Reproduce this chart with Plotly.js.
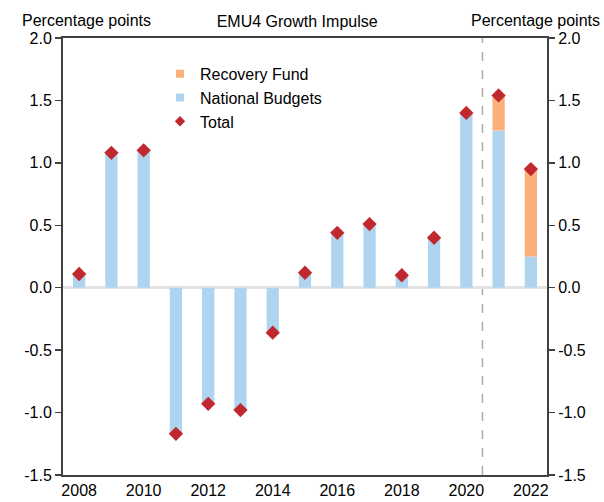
<!DOCTYPE html>
<html>
<head>
<meta charset="utf-8">
<script src="https://cdn.plot.ly/plotly-3.0.1.min.js"></script>
<style>html,body{margin:0;padding:0;background:#fff;}#chart{width:604px;height:502px;}</style>
</head>
<body>
<div id="chart"></div>
<script>
var years = [2008, 2009, 2010, 2011, 2012, 2013, 2014, 2015, 2016, 2017, 2018, 2019, 2020, 2021, 2022];
var nationalBudgets = [0.11, 1.08, 1.10, -1.17, -0.93, -0.98, -0.36, 0.12, 0.44, 0.51, 0.10, 0.40, 1.40, 1.26, 0.25];
var recoveryFund = [0, 0, 0, 0, 0, 0, 0, 0, 0, 0, 0, 0, 0, 0.28, 0.70];
var total = [0.11, 1.08, 1.10, -1.17, -0.93, -0.98, -0.36, 0.12, 0.44, 0.51, 0.10, 0.40, 1.40, 1.54, 0.95];
var yTickVals = [2.0, 1.5, 1.0, 0.5, 0.0, -0.5, -1.0, -1.5];
var yTickText = ["2.0", "1.5", "1.0", "0.5", "0.0", "-0.5", "-1.0", "-1.5"];
var xTickVals = [2008, 2010, 2012, 2014, 2016, 2018, 2020, 2022];
var xTickText = ["2008", "2010", "2012", "2014", "2016", "2018", "2020", "2022"];

var FONT = "Liberation Sans, Arial, sans-serif";
var fs = 16;
var C_NB = "#AED4F0", C_RF = "#FBB07C", C_TOT = "#C0282D";

var traces = [
  {type: "bar", name: "National Budgets", x: years, y: nationalBudgets,
   marker: {color: C_NB}, width: 0.38, showlegend: false},
  {type: "bar", name: "Recovery Fund", x: years, y: recoveryFund,
   marker: {color: C_RF}, width: 0.38, showlegend: false},
  {type: "scatter", mode: "markers", name: "Total", x: years, y: total,
   marker: {symbol: "diamond", color: C_TOT, size: 11}, showlegend: false},
  // legend entries (small symbols like the reference)
  {type: "scatter", mode: "markers", name: "Recovery Fund", x: [null], y: [null],
   marker: {symbol: "square", color: C_RF, size: 8}, legendrank: 1},
  {type: "scatter", mode: "markers", name: "National Budgets", x: [null], y: [null],
   marker: {symbol: "square", color: C_NB, size: 8}, legendrank: 2},
  {type: "scatter", mode: "markers", name: "Total", x: [null], y: [null],
   marker: {symbol: "diamond", color: C_TOT, size: 8}, legendrank: 3},
  // invisible trace to activate right axis
  {type: "scatter", mode: "none", x: [2008], y: [0], yaxis: "y2", showlegend: false, hoverinfo: "skip"}
];

var yaxisCommon = {
  range: [-1.5, 2.0], tickvals: yTickVals, ticktext: yTickText,
  showgrid: false, zeroline: false, showline: true, linecolor: "#404040", linewidth: 2,
  ticks: "outside", ticklen: 6, tickwidth: 1.5, tickcolor: "#404040",
  tickfont: {family: FONT, size: fs, color: "#000"}, fixedrange: true
};

var layout = {
  width: 604, height: 502,
  margin: {l: 63, r: 57, t: 38, b: 27, pad: 0},
  paper_bgcolor: "#fff", plot_bgcolor: "#fff",
  barmode: "relative",
  showlegend: true,
  legend: {x: 0.2004, y: 0.957, xanchor: "left", yanchor: "top", bgcolor: "rgba(0,0,0,0)",
           font: {family: FONT, size: fs, color: "#000"}, tracegroupgap: 0, itemwidth: 30},
  title: {text: "EMU4 Growth Impulse", font: {family: FONT, size: fs, color: "#000"},
          xref: "container", x: 0.492, xanchor: "center", yref: "container", y: 1 - 21/502, yanchor: "middle"},
  xaxis: {range: [2007.5, 2022.5], tickvals: xTickVals, ticktext: xTickText,
          showgrid: false, zeroline: false, showline: true, mirror: true, linecolor: "#404040", linewidth: 2,
          ticks: "", tickfont: {family: FONT, size: fs, color: "#000"}, fixedrange: true},
  yaxis: Object.assign({}, yaxisCommon, {side: "left", zeroline: true, zerolinecolor: "#E3E3E3", zerolinewidth: 3}),
  yaxis2: Object.assign({}, yaxisCommon, {side: "right", overlaying: "y"}),
  shapes: [
    {type: "line", xref: "x", yref: "paper", x0: 2020.5, x1: 2020.5, y0: 0, y1: 1,
     line: {color: "#AAAAAA", width: 1.5, dash: "dash"}, layer: "below"}
  ],
  annotations: [
    {text: "Percentage points", xref: "paper", yref: "paper", x: -63/484, y: 1, xanchor: "left", yanchor: "bottom",
     xshift: 20, yshift: 7, showarrow: false, font: {family: FONT, size: fs, color: "#000"}},
    {text: "Percentage points", xref: "paper", yref: "paper", x: 1 + 57/484, y: 1, xanchor: "right", yanchor: "bottom",
     xshift: -2, yshift: 7, showarrow: false, font: {family: FONT, size: fs, color: "#000"}}
  ]
};

Plotly.newPlot("chart", traces, layout, {displayModeBar: false, staticPlot: true});
</script>
</body>
</html>
